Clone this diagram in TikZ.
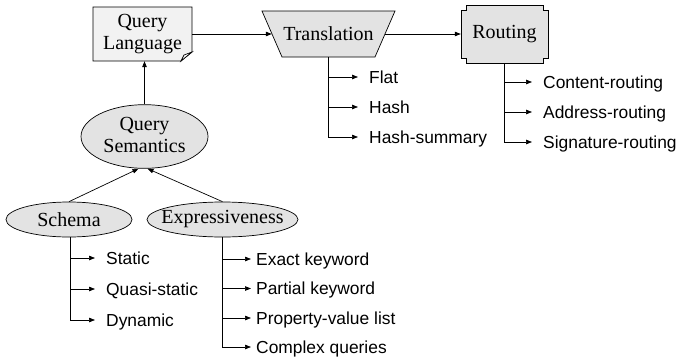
\documentclass[tikz,border=0pt]{standalone}
\usepackage{fontspec}
\setmainfont{Liberation Serif}
\setsansfont{Liberation Sans}
\usetikzlibrary{arrows.meta,shapes.geometric}
\definecolor{lightfill}{gray}{0.95}
\definecolor{shapefill}{gray}{0.89}
\newcommand\nodefnt{\fontsize{20}{23}\selectfont}
\newcommand\lblfnt{\sffamily\fontsize{17.4}{20}\selectfont}
\tikzset{
  line/.style={line width=0.7pt, draw=black},
  arr/.style={line, -{Triangle[length=6pt,width=4.5pt]}},
  box/.style={inner sep=0pt, font=\nodefnt, align=center},
  oval/.style={ellipse, draw=black, line width=0.7pt, fill=shapefill, inner sep=0pt, font=\nodefnt, align=center},
  lbl/.style={anchor=west, inner ysep=0pt, inner xsep=11pt, text height=12.4pt, text depth=0pt, font=\lblfnt},
  lbls/.style={lbl, inner xsep=5pt},
}
\begin{document}
\begin{tikzpicture}[x=1pt,y=-1pt]
\useasboundingbox (0,0) rectangle (679,359);
% Query Language (document shape)
\filldraw[line, fill=lightfill] (93,7) -- (192,7) -- (192,52) -- (181,61) -- (93,61) -- cycle;
\filldraw[line, fill=white] (192,52) -- (184,55) -- (181,61) -- cycle;
\node[box, minimum width=99pt, minimum height=54pt] (ql) at (142.5,34) {Query\\[-1pt]Language};
% Translation (trapezoid)
\filldraw[line, fill=shapefill] (262,11) -- (395,11) -- (375,57) -- (282,57) -- cycle;
\node[box, minimum width=113pt, minimum height=46pt] (trans) at (328.5,34) {Translation};
% Routing (notched box)
\filldraw[line, fill=shapefill] (461,10) -- (466,10) -- (466,5) -- (543,5) -- (543,10) -- (548,10) -- (548,58) -- (543,58) -- (543,63) -- (466,63) -- (466,58) -- (461,58) -- cycle;
\node[box, minimum width=87pt, minimum height=58pt] (rout) at (504.5,34) {Routing};
% ellipses
\node[oval, minimum width=127pt, minimum height=58pt] (sem) at (144.5,136.5) {\makebox[0pt]{\begin{tabular}{@{}c@{}}Query\\[-1pt]Semantics\end{tabular}}};
\node[oval, minimum width=126pt, minimum height=35pt] (schema) at (69,219.5) {\makebox[0pt]{Schema}};
\node[oval, minimum width=151pt, minimum height=35pt] (expr) at (222.5,219.5) {\makebox[0pt]{Expressiveness}};
% main connectors
\draw[arr] (ql.east) -- (trans.west);
\draw[arr] (trans.east) -- (rout.west);
\draw[arr] (sem.north) -- (sem.north |- ql.south);
\draw[arr] (schema.north) -- ([xshift=-6pt]sem.south);
\draw[arr] (expr.north) -- ([xshift=3pt]sem.south);
% Translation labels
\node[lbl] (flat) at (358,77) {Flat};
\node[lbl] (hash) at (358,107) {Hash};
\node[lbl] (hsum) at (358,137) {Hash-summary};
\foreach \n in {flat,hash,hsum} \draw[arr] (trans.south) |- (\n.west);
% Routing labels
\node[lbl] (cont) at (532,82) {Content-routing};
\node[lbl] (addr) at (532,112) {Address-routing};
\node[lbl] (sign) at (532,142) {Signature-routing};
\foreach \n in {cont,addr,sign} \draw[arr] (rout.south) |- (\n.west);
% Schema labels
\coordinate (strunk) at ([xshift=1pt]schema.south);
\node[lbl] (stat) at (95,258) {Static};
\node[lbl] (quasi) at (95,289) {Quasi-static};
\node[lbl] (dyn) at (95,320) {Dynamic};
\foreach \n in {stat,quasi,dyn} \draw[arr] (strunk) |- (\n.west);
% Expressiveness labels
\node[lbls] (exact) at (251,259) {Exact keyword};
\node[lbls] (part) at (251,288.5) {Partial keyword};
\node[lbls] (prop) at (251,318) {Property-value list};
\node[lbls] (comp) at (251,347) {Complex queries};
\foreach \n in {exact,part,prop,comp} \draw[arr] (expr.south) |- (\n.west);
\end{tikzpicture}
\end{document}
